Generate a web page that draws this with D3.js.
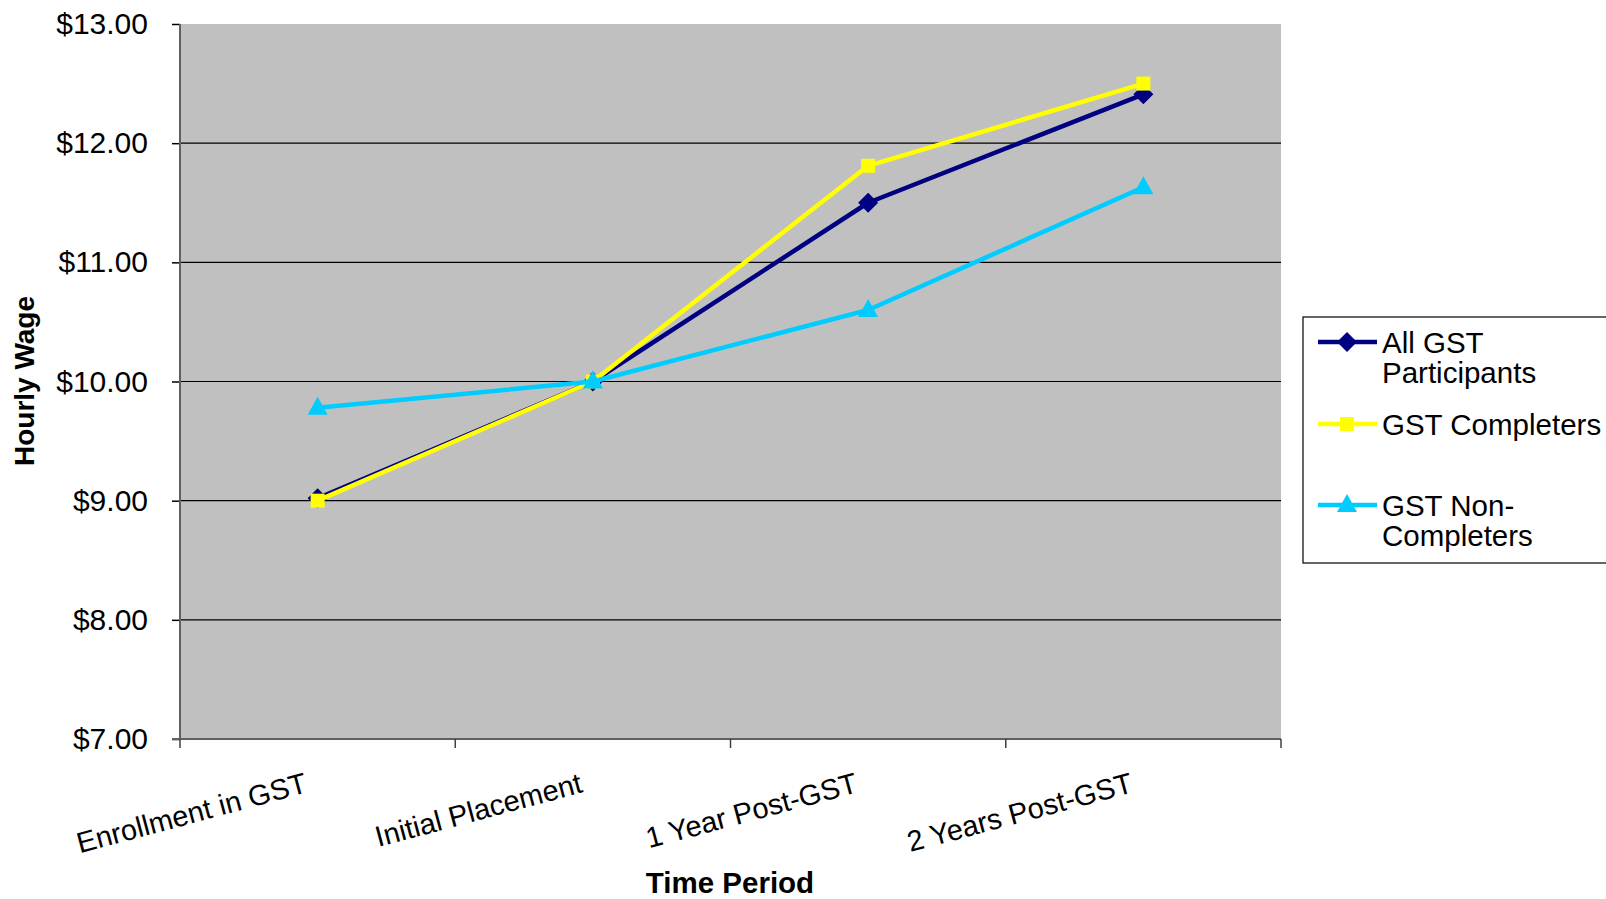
<!DOCTYPE html>
<html>
<head>
<meta charset="utf-8">
<script src="https://cdn.jsdelivr.net/npm/d3@7"></script>
<style>
  body { margin: 0; background: #fff; }
  svg { display: block; font-family: "Liberation Sans", Arial, sans-serif; }
</style>
</head>
<body>
<svg width="1606" height="899"></svg>
<script>
var periods = ["Enrollment in GST", "Initial Placement", "1 Year Post-GST", "2 Years Post-GST"];
var allParticipants = [9.02, 10.00, 11.50, 12.41];
var completers = [9.00, 10.00, 11.81, 12.50];
var nonCompleters = [9.78, 10.00, 10.60, 11.63];
var yTicks = [7, 8, 9, 10, 11, 12, 13];

var seriesList = [
    {name: ["All GST", "Participants"], values: allParticipants, color: "#000080", marker: "diamond"},
    {name: ["GST Completers"], values: completers, color: "#ffff00", marker: "square"},
    {name: ["GST Non-", "Completers"], values: nonCompleters, color: "#00ccff", marker: "triangle"}
];

var svg = d3.select('svg');
// plot box (note: "top" is taken by window.top, so use plot* names)
var plotL = 180, plotR = 1281, plotT = 24, plotB = 739;

var x = d3.scaleBand().domain(periods).range([plotL, plotR]);
var y = d3.scaleLinear().domain([7, 13]).range([plotB, plotT]);
var cx = function (p) { return x(p) + x.bandwidth() / 2; };

// plot area
svg.append('rect').attr('x', plotL).attr('y', plotT)
    .attr('width', plotR - plotL).attr('height', plotB - plotT)
    .attr('fill', '#c0c0c0');

// gridlines
svg.append('g').selectAll('line')
    .data(yTicks.filter(v => v > 7 && v < 13))
    .enter().append('line')
    .attr('x1', plotL).attr('x2', plotR)
    .attr('y1', d => y(d)).attr('y2', d => y(d))
    .attr('stroke', '#000').attr('stroke-width', 1.2);

// y axis
var yAxis = svg.append('g').attr('transform', 'translate(' + plotL + ',0)')
    .call(d3.axisLeft(y).tickValues(yTicks).tickFormat(d3.format('$.2f')).tickSize(8).tickPadding(24));
yAxis.select('.domain').remove();
yAxis.selectAll('.tick line').attr('stroke', '#000').attr('stroke-width', 1.5);
yAxis.selectAll('text').attr('font-size', '30px').attr('fill', '#000')
    .attr('font-family', '"Liberation Sans", Arial, sans-serif');

svg.append('line').attr('x1', plotL).attr('x2', plotL).attr('y1', plotT).attr('y2', plotB)
    .attr('stroke', '#606060').attr('stroke-width', 2);
svg.append('line').attr('x1', plotL - 8).attr('x2', plotR).attr('y1', plotB).attr('y2', plotB)
    .attr('stroke', '#606060').attr('stroke-width', 2);

// x ticks at category boundaries
var bounds = periods.map(p => x(p)).concat([plotR]);
svg.append('g').selectAll('line').data(bounds).enter().append('line')
    .attr('x1', d => d).attr('x2', d => d)
    .attr('y1', plotB).attr('y2', plotB + 9)
    .attr('stroke', '#404040').attr('stroke-width', 1.5);

// x tick labels, tilted
svg.append('g').selectAll('text').data(periods).enter().append('text')
    .attr('transform', d => 'translate(' + (cx(d) - 9) + ',792) rotate(-15)')
    .attr('text-anchor', 'end').attr('font-size', '29px').text(d => d);

// axis titles
svg.append('text').attr('x', 730).attr('y', 893).attr('text-anchor', 'middle')
    .attr('font-size', '29.5px').attr('font-weight', 'bold').text('Time Period');
svg.append('text').attr('transform', 'translate(34,381) rotate(-90)').attr('text-anchor', 'middle')
    .attr('font-size', '28px').attr('font-weight', 'bold').text('Hourly Wage');

// marker shapes
function drawMarker(g, kind, color) {
    if (kind === 'diamond') {
        g.append('path').attr('d', 'M0,-10L10,0L0,10L-10,0Z').attr('fill', color);
    } else if (kind === 'square') {
        g.append('rect').attr('x', -7).attr('y', -7).attr('width', 14).attr('height', 14).attr('fill', color);
    } else {
        g.append('path').attr('d', 'M0,-11L10,7L-10,7Z').attr('fill', color);
    }
}

var line = d3.line().x(d => cx(d.p)).y(d => y(d.v));

seriesList.forEach(function (s) {
    var pts = periods.map((p, i) => ({p: p, v: s.values[i]}));
    svg.append('path').datum(pts).attr('d', line)
        .attr('fill', 'none').attr('stroke', s.color).attr('stroke-width', 4.5)
        .attr('stroke-linejoin', 'round');
    svg.append('g').selectAll('g').data(pts).enter().append('g')
        .attr('transform', d => 'translate(' + cx(d.p) + ',' + y(d.v) + ')')
        .each(function () { drawMarker(d3.select(this), s.marker, s.color); });
});

// legend
var legend = svg.append('g');
legend.append('rect').attr('x', 1303).attr('y', 317).attr('width', 320).attr('height', 246)
    .attr('fill', '#fff').attr('stroke', '#000').attr('stroke-width', 1.2);

var legendRows = [342, 424, 505];
seriesList.forEach(function (s, i) {
    var ly = legendRows[i];
    legend.append('line').attr('x1', 1318).attr('x2', 1377).attr('y1', ly).attr('y2', ly)
        .attr('stroke', s.color).attr('stroke-width', 4.5);
    var mg = legend.append('g').attr('transform', 'translate(1347,' + ly + ')');
    drawMarker(mg, s.marker, s.color);
    var t = legend.append('text').attr('x', 1382).attr('y', ly + 11).attr('font-size', '29.5px');
    s.name.forEach(function (part, j) {
        t.append('tspan').attr('x', 1382).attr('dy', j === 0 ? 0 : 30).text(part);
    });
});
</script>
</body>
</html>
